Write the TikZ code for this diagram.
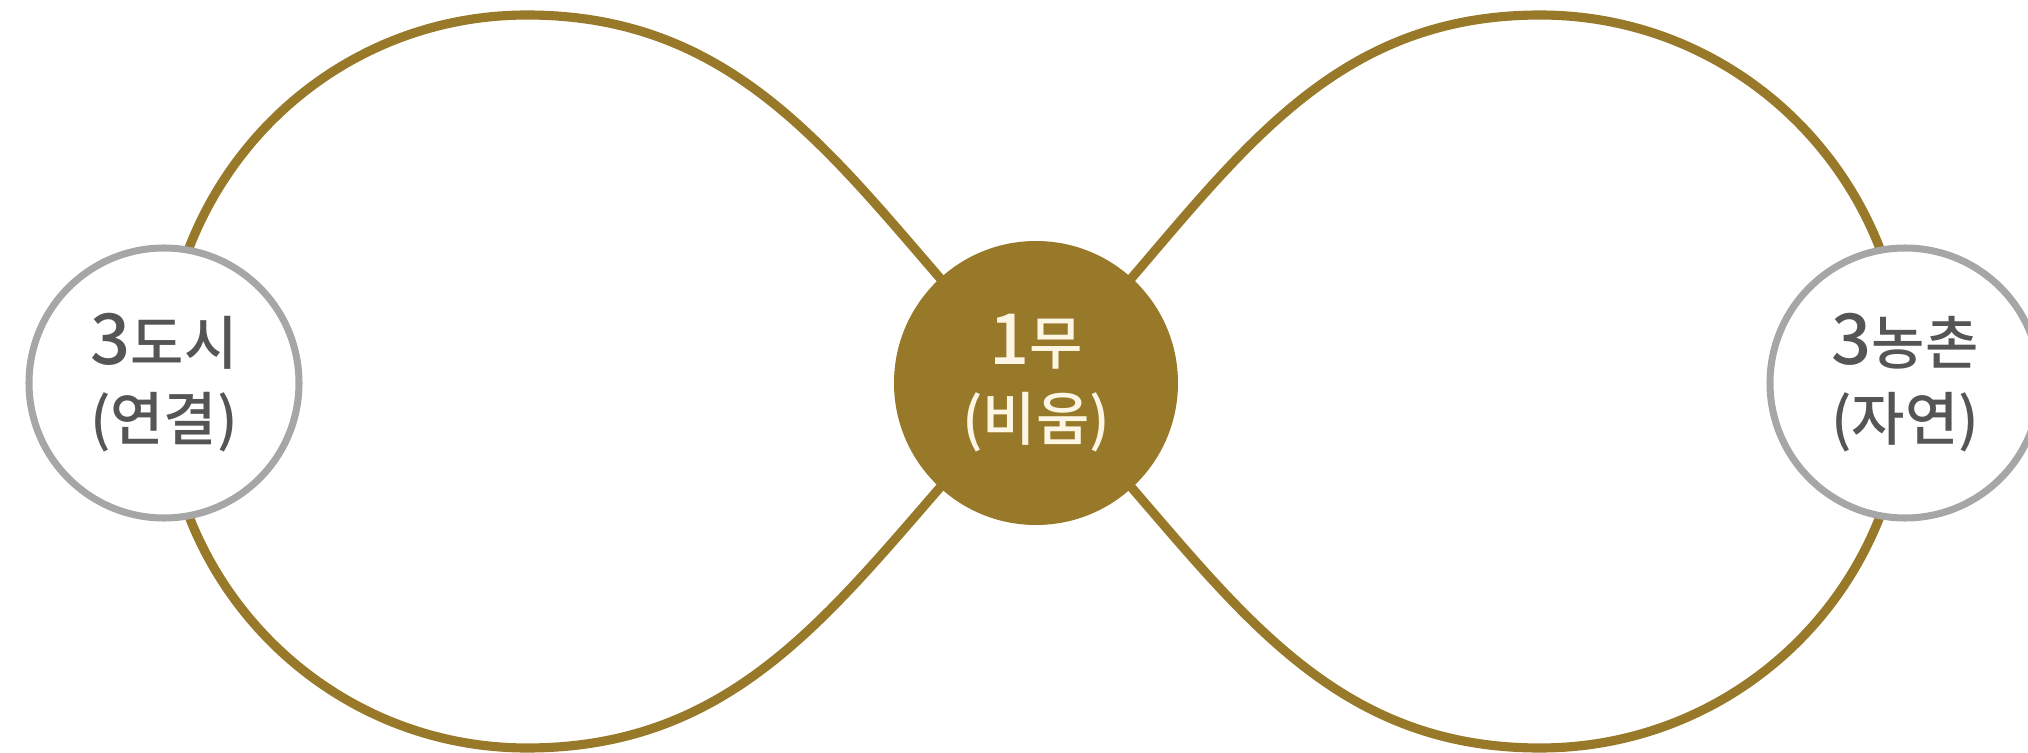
\documentclass[tikz,border=0pt]{standalone}
\usepackage{fontspec}
\setmainfont{Noto Sans CJK KR}[UprightFont={* Medium}]
\usetikzlibrary{backgrounds}
\definecolor{gold}{RGB}{152,121,42}
\definecolor{ringgray}{RGB}{166,166,166}
\definecolor{textgray}{RGB}{85,85,85}
\definecolor{cream}{RGB}{253,246,228}
\newcommand\digit[1]{{\fontsize{20}{21.6}\selectfont #1}}

\begin{document}
\begin{tikzpicture}[
    sidecircle/.style={circle, draw=ringgray, line width=2pt, fill=white, minimum size=2.70cm, inner sep=0pt, align=center, text=textgray, font=\fontsize{16.5}{21.6}\selectfont},
    centercircle/.style={circle, fill=gold, minimum size=2.84cm, inner sep=0pt, align=center, text=cream, font=\fontsize{16.5}{21.6}\selectfont},
    band/.style={draw=gold, line width=2.6pt}]
\useasboundingbox (0,-3.70) rectangle (20.28,3.83);
% circles
\node[sidecircle] (city) at (1.64,0) {\digit{3}도시\\(연결)};
\node[centercircle] (mu) at (10.36,0) {\digit{1}무\\(비움)};
\node[sidecircle] (rural) at (19.05,0) {\digit{3}농촌\\(자연)};
% top and bottom of the loops
\coordinate (lt) at (5.27,3.68);
\coordinate (lb) at (5.27,-3.65);
\coordinate (rt) at (15.40,3.68);
\coordinate (rb) at (15.40,-3.65);
% infinity band
\begin{pgfonlayer}{background}
\draw[band] (mu.center) to[out=135,in=0] (lt) to[out=180,in=90] (city.center)
    to[out=-90,in=180] (lb) to[out=0,in=-135] (mu.center);
\draw[band] (mu.center) to[out=45,in=180] (rt) to[out=0,in=90] (rural.center)
    to[out=-90,in=0] (rb) to[out=180,in=-45] (mu.center);
\end{pgfonlayer}
\end{tikzpicture}
\end{document}
